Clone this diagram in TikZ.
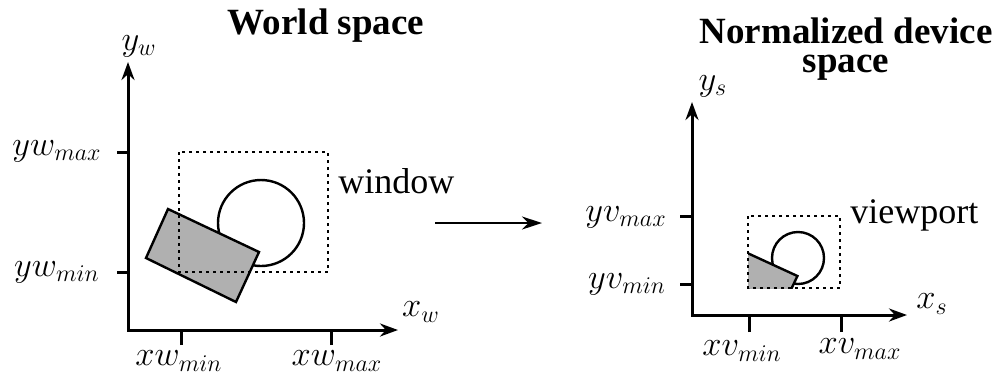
\documentclass[tikz,border=0pt]{standalone}
\usepackage{fontspec}
\setmainfont{Liberation Serif}[BoldFont={Liberation Serif Bold}]
\usetikzlibrary{arrows.meta}
\definecolor{shade}{RGB}{176,176,176}
\begin{document}
\begin{tikzpicture}[x=0.5pt,y=-0.5pt,
  lbl/.style={font=\fontsize{18}{21}\selectfont, inner sep=0pt},
  ttl/.style={font=\fontsize{18.5}{14.5}\selectfont\bfseries, inner sep=0pt, align=center},
  axes/.style={line width=1.5pt, {Stealth[length=9pt,width=6.5pt]}-{Stealth[length=9pt,width=6.5pt]}},
  tickmark/.style={line width=1.5pt},
  win/.style={line width=1.3pt, dash pattern=on 1.3pt off 2.2pt},
  outl/.style={line width=1.2pt, line join=miter},
  bigarrow/.style={line width=1pt, -{Stealth[length=10pt,width=6.5pt]}}
]
\useasboundingbox (0,0) rectangle (999,382);

% ---------------- World space ----------------
\node[ttl, anchor=base] (t1) at (326,34) {World space};
\coordinate (O1) at (128,330);
\coordinate (Y1) at (128,62);
\coordinate (X1) at (398,330);
\draw[axes] (Y1) -- (O1) -- (X1);

\coordinate (tyMax1) at (117,152);
\coordinate (tyMin1) at (117,272);
\coordinate (txMin1) at (181,345);
\coordinate (txMax1) at (331,345);
\draw[tickmark] (tyMax1) -- (O1 |- tyMax1);
\draw[tickmark] (tyMin1) -- (O1 |- tyMin1);
\draw[tickmark] (txMin1) -- (txMin1 |- O1);
\draw[tickmark] (txMax1) -- (txMax1 |- O1);

\node[lbl] (lyw) at (139,46) {$y_w$};
\node[lbl] (lxw) at (421,312) {$x_w$};
\node[lbl] (lywmax) at (57,151) {$yw_{max}$};
\node[lbl] (lywmin) at (57,272) {$yw_{min}$};
\node[lbl] (lxwmin) at (179,361) {$xw_{min}$};
\node[lbl] (lxwmax) at (337,361) {$xw_{max}$};

\node[outl, draw, circle, minimum size=43pt, inner sep=0pt] (c1) at (261,223) {};
\draw[outl, fill=shade] (168,209) -- (259,252) -- (236,302) -- (146,258) -- cycle;
\draw[win] (179,152) rectangle (328,272);
\node[lbl, anchor=west] (lwin) at (338,181) {window};

% ---------------- middle arrow ----------------
\coordinate (a1) at (435,223);
\coordinate (a2) at (542,223);
\draw[bigarrow] (a1) -- (a2);

% ---------------- Normalized device space ----------------
\node[ttl, anchor=north] (t2) at (846,17) {Normalized device\\space};
\coordinate (O2) at (692,315);
\coordinate (Y2) at (692,102);
\coordinate (X2) at (907,315);
\draw[axes] (Y2) -- (O2) -- (X2);

\coordinate (tyMax2) at (680,216);
\coordinate (tyMin2) at (680,284);
\coordinate (txMin2) at (749,332);
\coordinate (txMax2) at (841,332);
\draw[tickmark] (tyMax2) -- (O2 |- tyMax2);
\draw[tickmark] (tyMin2) -- (O2 |- tyMin2);
\draw[tickmark] (txMin2) -- (txMin2 |- O2);
\draw[tickmark] (txMax2) -- (txMax2 |- O2);

\node[lbl] (lys) at (713,86) {$y_s$};
\node[lbl] (lxs) at (932,304) {$x_s$};
\node[lbl] (lyvmax) at (626,217) {$yv_{max}$};
\node[lbl] (lyvmin) at (627,284) {$yv_{min}$};
\node[lbl] (lxvmin) at (742,351) {$xv_{min}$};
\node[lbl] (lxvmax) at (860,349) {$xv_{max}$};

\node[outl, draw, circle, minimum size=26pt, inner sep=0pt] (c2) at (798,258) {};
\begin{scope}
  \clip (748,216) rectangle (840,288);
  \draw[outl, fill=shade] (741.2,250.2) -- (797.4,276) -- (783.2,306) -- (727.6,279.6) -- cycle;
\end{scope}
\draw[win] (748,216) rectangle (840,288);
\node[lbl, anchor=base west] (lvp) at (850,223) {viewport};
\end{tikzpicture}
\end{document}
